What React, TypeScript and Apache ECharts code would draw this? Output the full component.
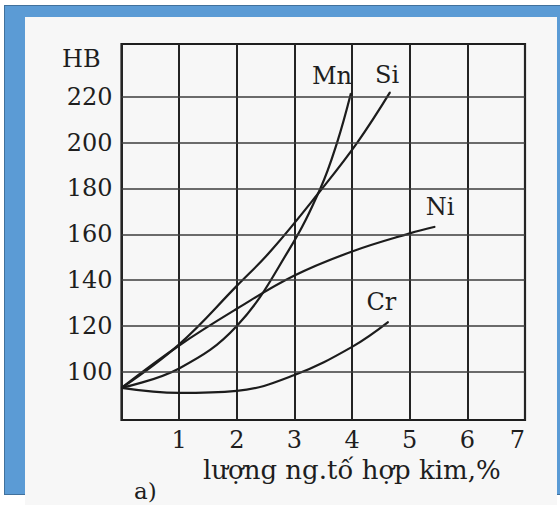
import React, { useEffect, useRef } from "react";
import * as echarts from "echarts";

const FONT = '"DejaVu Serif", "Liberation Serif", serif';
const INK = "#1e1e1e";

// x-axis ticks (% alloying element) and y-axis ticks (HB)
const xTicks = [1, 2, 3, 4, 5, 6, 7];
const yTicks = [100, 120, 140, 160, 180, 200, 220];

// Mn curve
const mnX = [0, 1, 2, 2.9, 3.45, 3.74, 3.98];
const mnY = [93, 101.5, 120, 153, 180, 200, 221.5];
// Si curve
const siX = [0, 1, 2, 2.6, 3.45, 4.09, 4.66];
const siY = [93, 112, 137.5, 153, 179, 200, 222];
// Ni curve
const niX = [0, 1, 2, 3, 4, 5, 5.44];
const niY = [93, 111.5, 127.5, 142, 152.5, 160.4, 163.3];
// Cr curve
const crX = [0, 1, 2, 3, 4, 4.63];
const crY = [93, 90.8, 91.7, 98.6, 110.9, 121.8];

const xTitle = "lượng ng.tố hợp kim,%";
const yTitle = "HB";
const figLabel = "a)";

export default function App() {
  const ref = useRef<HTMLDivElement>(null);

  useEffect(() => {
    const chart = echarts.init(ref.current!, null, { renderer: "svg" });

    const mk = (name: string, xs: number[], ys: number[], offset: number[], withGrid = false) => {
      const s: any = {
        type: "line",
        name,
        smooth: 0.4,
        symbol: "circle",
        symbolSize: 1,
        showSymbol: true,
        showAllSymbol: true,
        silent: true,
        z: 3,
        emphasis: { disabled: true },
        lineStyle: { color: "#1c1c1c", width: 2.2 },
        itemStyle: { color: "#1c1c1c" },
        data: xs.map((x, i) =>
          i === xs.length - 1
            ? {
                value: [x, ys[i]],
                label: {
                  show: true,
                  position: "top",
                  offset,
                  formatter: name,
                  fontFamily: FONT,
                  fontSize: 24,
                  color: INK,
                },
              }
            : [x, ys[i]]
        ),
      };
      if (withGrid) {
        s.markLine = {
          silent: true,
          symbol: ["none", "none"],
          label: { show: false },
          emphasis: { disabled: true },
          lineStyle: { color: "#3c3c3c", width: 1.6, type: "solid" },
          data: yTicks.map((v) => ({ yAxis: v })),
        };
      }
      return s;
    };

    chart.setOption({
      animation: false,
      backgroundColor: "transparent",
      grid: {
        left: 121.5,
        right: 35,
        top: 44,
        bottom: 85,
        show: true,
        borderColor: "#1e1e1e",
        borderWidth: 2.2,
        backgroundColor: "transparent",
      },
      xAxis: {
        type: "value",
        min: 0,
        max: 7,
        interval: 1,
        axisLine: { show: false },
        axisTick: { show: false },
        splitLine: { show: true, lineStyle: { color: "#242424", width: 2 } },
        axisLabel: {
          customValues: xTicks,
          margin: 8,
          fontFamily: FONT,
          fontSize: 24,
          color: INK,
          alignMaxLabel: "right",
        },
      },
      yAxis: {
        type: "value",
        min: 79,
        max: 243,
        axisLine: { show: false },
        axisTick: { show: false },
        splitLine: { show: false },
        axisLabel: {
          customValues: yTicks,
          margin: 9,
          fontFamily: FONT,
          fontSize: 24,
          color: INK,
          padding: [0, 0, 12, 0],
        },
      },
      graphic: [
        {
          type: "text",
          left: 62,
          top: 47,
          silent: true,
          style: { text: yTitle, fontFamily: FONT, fontSize: 24, fill: INK },
        },
        {
          type: "text",
          left: 203,
          top: 457,
          silent: true,
          style: { text: xTitle, fontFamily: FONT, fontSize: 26, fill: INK },
        },
        {
          type: "text",
          left: 134,
          top: 479,
          silent: true,
          style: { text: figLabel, fontFamily: FONT, fontSize: 23, fill: INK },
        },
      ],
      series: [
        mk("Mn", mnX, mnY, [-19, 0], true),
        mk("Si", siX, siY, [-3, 0]),
        mk("Ni", niX, niY, [5, -2]),
        mk("Cr", crX, crY, [-7, -2]),
      ],
    });

    return () => chart.dispose();
  }, []);

  return (
    <div style={{ position: "fixed", left: 0, top: 0, width: 560, height: 505, background: "#ffffff", overflow: "hidden" }}>
      <div
        style={{
          position: "absolute",
          left: 4,
          top: 5,
          width: 560,
          height: 490,
          background: "#5b9bd5",
          border: "1.5px solid #41719c",
          boxSizing: "border-box",
        }}
      />
      <div
        style={{
          position: "absolute",
          left: 25,
          top: 17,
          width: 532,
          height: 488,
          background: "#f7f7f7",
        }}
      />
      <div ref={ref} style={{ position: "absolute", left: 0, top: 0, width: 560, height: 505 }} />
    </div>
  );
}
